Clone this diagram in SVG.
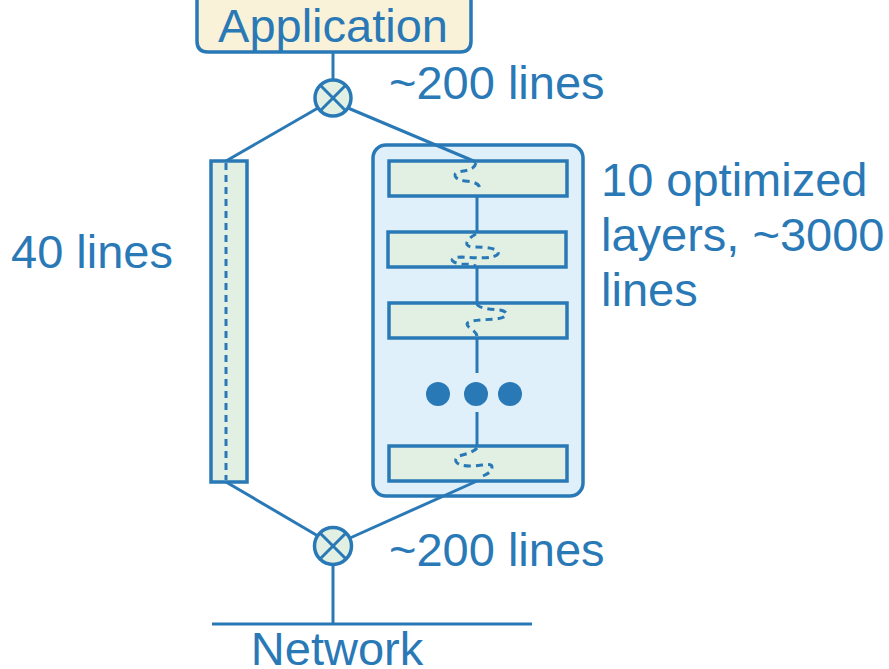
<svg xmlns="http://www.w3.org/2000/svg" width="889" height="669" viewBox="0 0 889 669">
  <style>
    .ln { stroke: #2a79b7; stroke-width: 3; fill: none; }
    .dash { stroke: #2a79b7; stroke-width: 3; fill: none; stroke-dasharray: 7 5; }
    .layer { fill: #e2f0e4; stroke: #2a79b7; stroke-width: 3.5; }
    .join { fill: #e2f0e4; stroke: #2a79b7; stroke-width: 3.5; }
    .lbl { font-family: "Liberation Sans", Arial, sans-serif; font-size: 47px; fill: #2a79b7; }
  </style>
  <rect width="889" height="669" fill="#ffffff"/>

  <g id="application">
    <path d="M197,-5 V41 Q197,52 208,52 H460 Q471,52 471,41 V-5" fill="#faf2d8" stroke="#2a79b7" stroke-width="3.5"/>
    <text class="lbl" x="333" y="42" text-anchor="middle">Application</text>
  </g>

  <g id="simple-stack">
    <rect class="layer" x="211" y="161" width="36" height="321"/>
    <line class="dash" x1="226" y1="163" x2="226" y2="480"/>
  </g>
  <text class="lbl" x="11" y="268">40 lines</text>

  <g id="optimized-stack">
    <rect x="373" y="145" width="210" height="351" rx="13" fill="#dff0fb" stroke="#2a79b7" stroke-width="3.5"/>
    <line class="ln" x1="477" y1="196" x2="477" y2="232"/>
    <line class="ln" x1="477" y1="267" x2="477" y2="303"/>
    <line class="ln" x1="477" y1="338" x2="477" y2="373"/>
    <line class="ln" x1="477" y1="412" x2="477" y2="446"/>
    <rect class="layer" x="389" y="161" width="178" height="35"/>
    <rect class="layer" x="388" y="232" width="178" height="35"/>
    <rect class="layer" x="389" y="303" width="178" height="35"/>
    <rect class="layer" x="389" y="446" width="178" height="35"/>
    <path class="dash" d="M476,163 C474,170 468,170 458,172 C452,174 455,180 465,181 C474,182 480,183 480,190"/>
    <path class="dash" d="M476,234 C468,238 462,246 472,247 C485,247 500,248 498,254 C494,259 478,258 462,257 C448,257 450,263 462,264 C470,264 474,265 476,266"/>
    <path class="dash" d="M477,304 C478,308 488,309 500,310 C510,312 508,318 495,319 C482,320 468,320 467,324 C467,328 476,330 477,336"/>
    <path class="dash" d="M477,448 C474,452 466,454 459,456 C452,460 456,466 470,466 C482,466 492,462 492,467 C492,472 487,474 483,476"/>
    <circle cx="438" cy="394" r="12" fill="#2a79b7"/>
    <circle cx="476" cy="394" r="12" fill="#2a79b7"/>
    <circle cx="510" cy="394" r="12" fill="#2a79b7"/>
  </g>
  <text class="lbl" x="601" y="196">10 optimized</text>
  <text class="lbl" x="601" y="251">layers, ~3000</text>
  <text class="lbl" x="601" y="306">lines</text>

  <g id="connectors">
    <line class="ln" x1="333" y1="52" x2="333" y2="80"/>
    <line class="ln" x1="318" y1="108" x2="226" y2="161"/>
    <line class="ln" x1="348" y1="108" x2="476" y2="162"/>
    <line class="ln" x1="226" y1="482" x2="318" y2="536"/>
    <line class="ln" x1="477" y1="481" x2="350" y2="538"/>
    <line class="ln" x1="333" y1="565" x2="333" y2="624"/>
    <line class="ln" x1="212" y1="624" x2="532" y2="624"/>
  </g>

  <g id="join-top">
    <circle class="join" cx="333" cy="98" r="18"/>
    <line class="ln" x1="320.3" y1="85.3" x2="345.7" y2="110.7"/>
    <line class="ln" x1="345.7" y1="85.3" x2="320.3" y2="110.7"/>
  </g>
  <text class="lbl" x="389" y="99">~200 lines</text>

  <g id="join-bottom">
    <circle class="join" cx="333" cy="546" r="18.5"/>
    <line class="ln" x1="320" y1="533" x2="346" y2="559"/>
    <line class="ln" x1="346" y1="533" x2="320" y2="559"/>
  </g>
  <text class="lbl" x="389" y="566">~200 lines</text>

  <g id="network">
    <text class="lbl" x="337" y="665" text-anchor="middle">Network</text>
  </g>
</svg>
